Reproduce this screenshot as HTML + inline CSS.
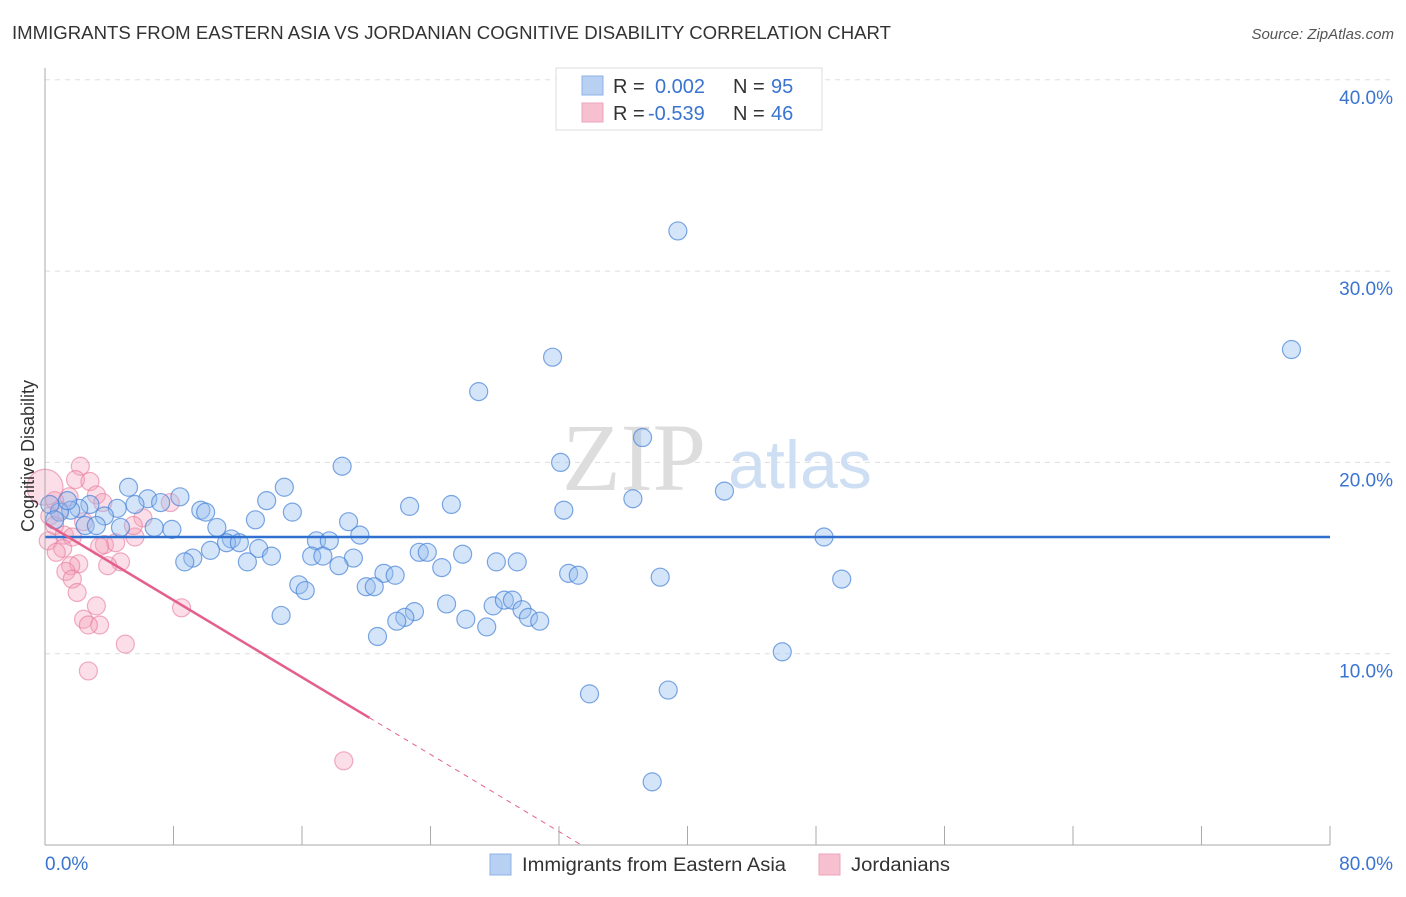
<!DOCTYPE html>
<html><head><meta charset="utf-8"><style>
body{margin:0;background:#fff;font-family:"Liberation Sans",sans-serif;}
svg text{font-family:"Liberation Sans",sans-serif;}
</style></head><body>
<svg width="1406" height="892" viewBox="0 0 1406 892">
<text x="12" y="39" font-size="18" fill="#333" textLength="879" lengthAdjust="spacingAndGlyphs">IMMIGRANTS FROM EASTERN ASIA VS JORDANIAN COGNITIVE DISABILITY CORRELATION CHART</text>
<text x="1394" y="39" font-size="15" fill="#555" font-style="italic" text-anchor="end">Source: ZipAtlas.com</text>
<g id="grid"></g>
<text x="634" y="490" font-size="96" fill="#ddd" text-anchor="middle" style="font-family:'Liberation Serif',serif">ZIP</text>
<text x="800" y="488" font-size="68" fill="#cfdff3" text-anchor="middle">atlas</text>
<g id="pts"></g>
<g id="lines"></g>
<g id="axes"></g>
<text transform="translate(34,456) rotate(-90)" font-size="18" fill="#333" text-anchor="middle">Cognitive Disability</text>
<g>
<rect x="556" y="68" width="266" height="62" fill="#fff" stroke="#ddd"/>
<rect x="582" y="76" width="21" height="19" fill="#b8d0f2" stroke="#8fb1e6"/>
<rect x="582" y="103" width="21" height="19" fill="#f7c0d0" stroke="#eea5bb"/>
<text x="613" y="93" font-size="20" fill="#333">R =</text><text x="655" y="93" font-size="20" fill="#3a74d0">0.002</text>
<text x="733" y="93" font-size="20" fill="#333">N =</text><text x="771" y="93" font-size="20" fill="#3a74d0">95</text>
<text x="613" y="120" font-size="20" fill="#333">R =</text><text x="648" y="120" font-size="20" fill="#3a74d0">-0.539</text>
<text x="733" y="120" font-size="20" fill="#333">N =</text><text x="771" y="120" font-size="20" fill="#3a74d0">46</text>
</g>
<g>
<rect x="490" y="854" width="21" height="21" fill="#b8d0f2" stroke="#8fb1e6"/>
<text x="522" y="871" font-size="19" fill="#333" textLength="264" lengthAdjust="spacingAndGlyphs">Immigrants from Eastern Asia</text>
<rect x="819" y="854" width="21" height="21" fill="#f7c0d0" stroke="#eea5bb"/>
<text x="851" y="871" font-size="19" fill="#333" textLength="99" lengthAdjust="spacingAndGlyphs">Jordanians</text>
</g>
</svg>
<script>
const blueX=[39.4,77.6,31.6,27.0,37.2,32.1,18.5,42.3,36.6,25.3,22.7,32.3,5.2,6.4,8.4,14.9,13.8,15.4,9.7,10.0,7.2,5.6,4.5,3.7,2.8,2.1,1.6,0.9,0.3,0.6,2.5,4.7,6.8,7.9,10.7,13.1,18.9,19.6,16.9,17.7,11.6,11.3,12.1,10.3,13.3,9.2,8.7,12.6,14.1,16.6,17.3,19.2,18.3,23.3,23.8,26.0,28.1,29.4,24.7,21.1,21.8,32.6,33.2,38.3,49.6,48.5,15.8,16.2,20.0,20.5,25.0,27.9,28.6,29.1,29.7,30.1,30.8,26.2,27.5,23.0,22.4,21.9,20.7,14.7,45.9,33.9,38.8,37.8,3.2,1.4];
const blueY=[32.1,25.9,25.5,23.7,21.3,20.0,19.8,18.5,18.1,17.8,17.7,17.5,18.7,18.1,18.2,18.7,18.0,17.4,17.5,17.4,17.9,17.8,17.6,17.2,17.8,17.6,17.5,17.4,17.8,17.0,16.7,16.6,16.6,16.5,16.6,17.0,16.9,16.2,15.9,15.9,16.0,15.8,15.8,15.4,15.5,15.0,14.8,14.8,15.1,15.1,15.1,15.0,14.6,15.3,15.3,15.2,14.8,14.8,14.5,14.2,14.1,14.2,14.1,14.0,13.9,16.1,13.6,13.3,13.5,13.5,12.6,12.5,12.8,12.8,12.3,11.9,11.7,11.8,11.4,12.2,11.9,11.7,10.9,12.0,10.1,7.9,8.1,3.3,16.7,18.0];
const pinkX=[2.2,1.9,2.8,3.2,1.5,0.6,0,3.6,0.9,0.3,2.4,0.6,1.2,1.7,0.2,1.1,0.7,3.7,4.4,3.4,5.6,6.1,7.8,5.5,2.1,1.6,1.3,4.7,3.9,1.7,2.0,3.2,8.5,2.4,3.4,2.7,5.0,2.7,18.6];
const pinkY=[19.8,19.1,19.0,18.3,18.2,18.0,18.7,17.9,17.5,17.2,16.9,16.7,16.2,16.1,15.9,15.5,15.3,15.7,15.8,15.6,16.1,17.1,17.9,16.7,14.7,14.6,14.3,14.8,14.6,13.9,13.2,12.5,12.4,11.8,11.5,11.5,10.5,9.1,4.4];
const blueTrend=[16.1,16.1];
const pinkTrend=[16.83,-0.504];
const xTicks=["0.0%","80.0%"];
const yTickVals=[10,20,30,40];
const NS="http://www.w3.org/2000/svg";
const X=v=>45+v/80*1285, Y=v=>845-v*19.13;
function mk(tag,attrs,parent){const e=document.createElementNS(NS,tag);for(const k in attrs)e.setAttribute(k,attrs[k]);parent.appendChild(e);return e;}
const grid=document.getElementById('grid'),axes=document.getElementById('axes'),pts=document.getElementById('pts'),lines=document.getElementById('lines');
yTickVals.forEach(v=>{const l=mk('line',{x1:45,x2:1394,y1:Y(v),y2:Y(v),stroke:'#ddd','stroke-dasharray':'5,5'},grid);


const t=mk('text',{x:1393,y:Y(v)+24,'font-size':19,fill:'#3a74d0','text-anchor':'end'},axes);t.textContent=v.toFixed(1)+'%';

});
mk('line',{x1:45,x2:45,y1:68,y2:845,stroke:'#aaa'},axes);
mk('line',{x1:45,x2:1330,y1:845,y2:845,stroke:'#aaa'},axes);
for(let i=0;i<=10;i++){const x=X(i*8);mk('line',{x1:x,x2:x,y1:826,y2:845,stroke:'#aaa'},axes);}
const xl0=mk('text',{x:45,y:870,'font-size':19,fill:'#3a74d0'},axes);xl0.textContent=xTicks[0];


const xl1=mk('text',{x:1393,y:870,'font-size':19,fill:'#3a74d0','text-anchor':'end'},axes);xl1.textContent=xTicks[1];


pinkX.forEach((v,i)=>{const c=mk('circle',{cx:X(v),cy:Y(pinkY[i]),r:(i==6?18:9),fill:'rgba(244,160,186,0.35)',stroke:'rgba(232,120,155,0.6)','stroke-width':1.2},pts);

});
blueX.forEach((v,i)=>{const c=mk('circle',{cx:X(v),cy:Y(blueY[i]),r:9,fill:'rgba(150,190,240,0.4)',stroke:'rgba(70,130,215,0.7)','stroke-width':1.2},pts);

});
const bl=mk('line',{x1:X(0),x2:X(80),y1:Y(blueTrend[0]),y2:Y(blueTrend[1]),stroke:'#2f6fd0','stroke-width':2.5},lines);


const pe=20.2, pz=-pinkTrend[0]/pinkTrend[1];
const pl=mk('line',{x1:X(0),x2:X(pe),y1:Y(pinkTrend[0]),y2:Y(pinkTrend[0]+pinkTrend[1]*pe),stroke:'#e4608c','stroke-width':2.5},lines);


const pd=mk('line',{x1:X(pe),x2:X(pz),y1:Y(pinkTrend[0]+pinkTrend[1]*pe),y2:Y(0),stroke:'#e4608c','stroke-width':1,'stroke-dasharray':'5,5'},lines);


</script>
</body></html>
